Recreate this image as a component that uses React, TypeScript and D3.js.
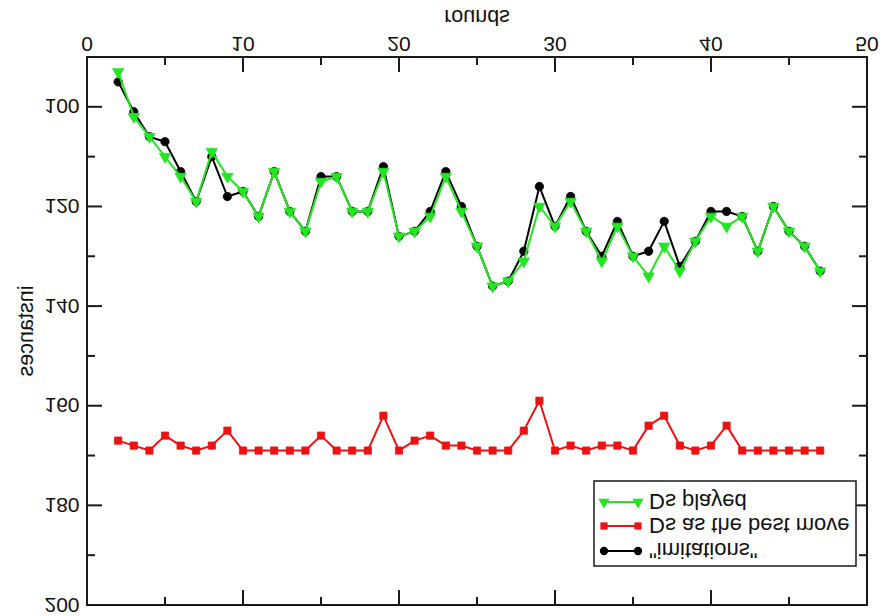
import React from 'react';
import * as d3 from 'd3';

const rounds = [2, 3, 4, 5, 6, 7, 8, 9, 10, 11, 12, 13, 14, 15, 16, 17, 18, 19, 20, 21, 22, 23, 24, 25, 26, 27, 28, 29, 30, 31, 32, 33, 34, 35, 36, 37, 38, 39, 40, 41, 42, 43, 44, 45, 46, 47];
const dsPlayed = [93, 102, 106, 110, 114, 119, 109, 114, 117, 122, 113, 121, 125, 115, 114, 121, 121, 113, 126, 125, 122, 114, 121, 128, 136, 135, 131, 120, 124, 119, 125, 131, 124, 130, 134, 128, 133, 127, 122, 124, 122, 129, 120, 125, 128, 133];
const dsBest = [167, 168, 169, 166, 168, 169, 168, 165, 169, 169, 169, 169, 169, 166, 169, 169, 169, 162, 169, 167, 166, 168, 168, 169, 169, 169, 165, 159, 169, 168, 169, 168, 168, 169, 164, 162, 168, 169, 168, 164, 169, 169, 169, 169, 169, 169];
const imitations = [95, 101, 106, 107, 113, 119, 110, 118, 117, 122, 113, 121, 125, 114, 114, 121, 121, 112, 126, 125, 121, 113, 120, 128, 136, 135, 129, 116, 124, 118, 125, 130, 123, 130, 129, 123, 132, 127, 121, 121, 122, 129, 120, 125, 128, 133];
const xTickLabels = [0, 10, 20, 30, 40, 50];
const yTickLabels = [100, 120, 140, 160, 180, 200];
const seriesNames = ['"imitations"', 'Ds as the best move', 'Ds played'];

const GREEN = '#22e622';
const RED = '#ee1111';
const BLACK = '#000000';
const FONT = '"Liberation Sans", Arial, Helvetica, sans-serif';

export default function App() {
  const W = 885;
  const H = 616;
  const L = 87, R = 867, T = 11, B = 559;
  const x = d3.scaleLinear().domain([0, 50]).range([L, R]);
  const y = d3.scaleLinear().domain([90, 200]).range([B, T]);

  const line = d3
    .line<[number, number]>()
    .x((d) => x(d[0]))
    .y((d) => y(d[1]));

  const mk = (vals: number[]) => rounds.map((r, i) => [r, vals[i]] as [number, number]);
  const played = mk(dsPlayed);
  const best = mk(dsBest);
  const imit = mk(imitations);

  const tri = d3.symbol().type(d3.symbolTriangle).size(55)() as string;
  const sq = d3.symbol().type(d3.symbolSquare).size(52)() as string;
  const circ = d3.symbol().type(d3.symbolCircle).size(55)() as string;

  const xMinor = x.ticks(10);
  const yMinor = y.ticks(11).filter((v) => v >= 90);

  const series = [
    { name: seriesNames[0], data: imit, color: BLACK, sym: circ },
    { name: seriesNames[1], data: best, color: RED, sym: sq },
    { name: seriesNames[2], data: played, color: GREEN, sym: tri },
  ];
  const drawOrder = [series[1], series[0], series[2]];

  const legX = 594, legY = 50, legW = 262, legH = 85;
  const legRows = [65, 90, 114];

  return (
    <svg width={W} height={H} style={{ position: 'absolute', left: 0, top: 0, background: '#fff' }}>
      <rect width={W} height={H} fill="#fff" />
      <g transform={`translate(0,${H}) scale(1,-1)`} fontFamily={FONT}>
        {drawOrder.map((s) => (
          <g key={s.name}>
            <path d={line(s.data) || ''} fill="none" stroke={s.color} strokeWidth={2} strokeLinejoin="round" />
            {s.data.map((d, i) => (
              <path key={i} d={s.sym} transform={`translate(${x(d[0])},${y(d[1])})`} fill={s.color} stroke={s.color} strokeWidth={0.8} />
            ))}
          </g>
        ))}

        <rect x={L} y={T} width={R - L} height={B - T} fill="none" stroke="#1a1a1a" strokeWidth={2} />

        {xMinor.map((v) => {
          const len = v % 10 === 0 ? 15 : 8;
          return (
            <g key={'xt' + v} stroke="#1a1a1a" strokeWidth={2}>
              <line x1={x(v)} x2={x(v)} y1={B} y2={B - len} />
              <line x1={x(v)} x2={x(v)} y1={T} y2={T + len} />
            </g>
          );
        })}
        {yMinor.map((v) => {
          const len = v % 20 === 0 ? 15 : 8;
          return (
            <g key={'yt' + v} stroke="#1a1a1a" strokeWidth={2}>
              <line x1={L} x2={L + len} y1={y(v)} y2={y(v)} />
              <line x1={R} x2={R - len} y1={y(v)} y2={y(v)} />
            </g>
          );
        })}

        {xTickLabels.map((v) => (
          <text key={'xl' + v} x={x(v)} y={579} textAnchor="middle" fontSize={21} fill="#111">
            {v}
          </text>
        ))}
        {yTickLabels.map((v) => (
          <text key={'yl' + v} x={79.5} y={y(v) + 7.5} textAnchor="end" fontSize={21} fill="#111">
            {v}
          </text>
        ))}

        <text x={(L + R) / 2} y={606} textAnchor="middle" fontSize={21.5} fill="#111">
          rounds
        </text>
        <text transform={`translate(33,${(T + B) / 2}) rotate(-90)`} textAnchor="middle" fontSize={21.5} fill="#111">
          instances
        </text>

        <rect x={legX} y={legY} width={legW} height={legH} fill="#fff" stroke="#1a1a1a" strokeWidth={1.5} />
        {series.map((s, i) => (
          <g key={'lg' + i}>
            <line x1={604} x2={638} y1={legRows[i]} y2={legRows[i]} stroke={s.color} strokeWidth={2} />
            <path d={s.sym} transform={`translate(604,${legRows[i]})`} fill={s.color} />
            <path d={s.sym} transform={`translate(638,${legRows[i]})`} fill={s.color} />
            <text x={649} y={legRows[i] + 8} fontSize={22} fill="#111">
              {s.name}
            </text>
          </g>
        ))}
      </g>
    </svg>
  );
}
